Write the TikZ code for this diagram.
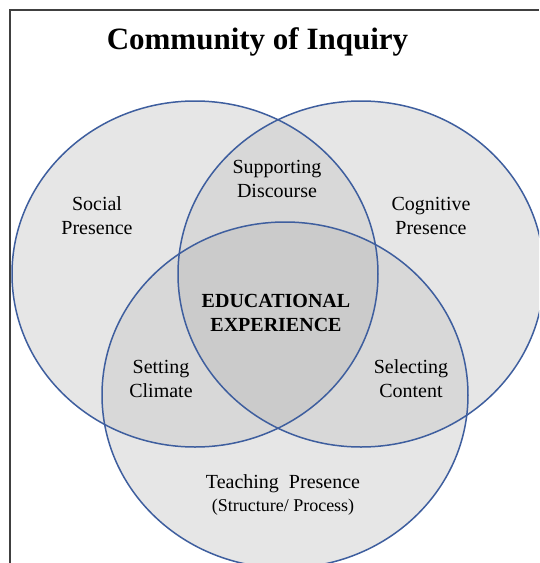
\documentclass[tikz,border=0pt]{standalone}
\usepackage{fontspec}
\setmainfont{Liberation Serif}
\definecolor{edgeblue}{RGB}{62,94,158}
\definecolor{regA}{HTML}{E6E6E6}
\definecolor{regB}{HTML}{D8D8D8}
\definecolor{regC}{HTML}{CBCBCB}
\definecolor{framegray}{HTML}{404040}
\tikzset{
  ring/.style={draw=edgeblue, line width=1.5pt},
  lbl/.style={align=center, font=\fontsize{20}{24}\selectfont, inner sep=0pt},
  boldlbl/.style={align=center, font=\fontsize{20}{24}\selectfont\bfseries, inner sep=0pt},
  framestyle/.style={draw=framegray, line width=1.5pt}
}
\begin{document}
\begin{tikzpicture}[x=1pt,y=-1pt]
\useasboundingbox (0,0) rectangle (539,563);
\clip (0,0) rectangle (539,563);
% single regions
\fill[regA] (195,274) ellipse [x radius=183, y radius=173];
\fill[regA] (361,274) ellipse [x radius=183, y radius=173];
\fill[regA] (285,395) ellipse [x radius=183, y radius=173];
% pairwise overlaps
\begin{scope}
  \clip (195,274) ellipse [x radius=183, y radius=173];
  \fill[regB] (361,274) ellipse [x radius=183, y radius=173];
  \fill[regB] (285,395) ellipse [x radius=183, y radius=173];
\end{scope}
\begin{scope}
  \clip (361,274) ellipse [x radius=183, y radius=173];
  \fill[regB] (285,395) ellipse [x radius=183, y radius=173];
\end{scope}
% triple overlap
\begin{scope}
  \clip (195,274) ellipse [x radius=183, y radius=173];
  \clip (361,274) ellipse [x radius=183, y radius=173];
  \fill[regC] (285,395) ellipse [x radius=183, y radius=173];
\end{scope}
% outlines
\draw[ring] (195,274) ellipse [x radius=183, y radius=173];
\draw[ring] (361,274) ellipse [x radius=183, y radius=173];
\draw[ring] (285,395) ellipse [x radius=183, y radius=173];
% frame
\coordinate (fbl) at (10,563);
\coordinate (ftl) at (10,10);
\coordinate (ftr) at (539,10);
\draw[framestyle] (fbl) -- (ftl) -- (ftr);
% texts
\node[inner sep=0pt, font=\fontsize{31}{36}\selectfont\bfseries] (title) at (257.5,42) {Community of Inquiry};
\node[lbl] (social) at (97,216) {Social\\Presence};
\node[lbl] (support) at (277,179) {Supporting\\Discourse};
\node[lbl] (cognitive) at (431,216) {Cognitive\\Presence};
\node[boldlbl] (edu) at (276,313) {EDUCATIONAL\\EXPERIENCE};
\node[lbl] (setting) at (161,379) {Setting\\Climate};
\node[lbl] (selecting) at (411,379) {Selecting\\Content};
\node[lbl] (teaching) at (283,484) {Teaching\ \ Presence};
\node[inner sep=0pt, font=\fontsize{18}{22}\selectfont] (struct) at (283,507) {(Structure/ Process)};
\end{tikzpicture}
\end{document}
